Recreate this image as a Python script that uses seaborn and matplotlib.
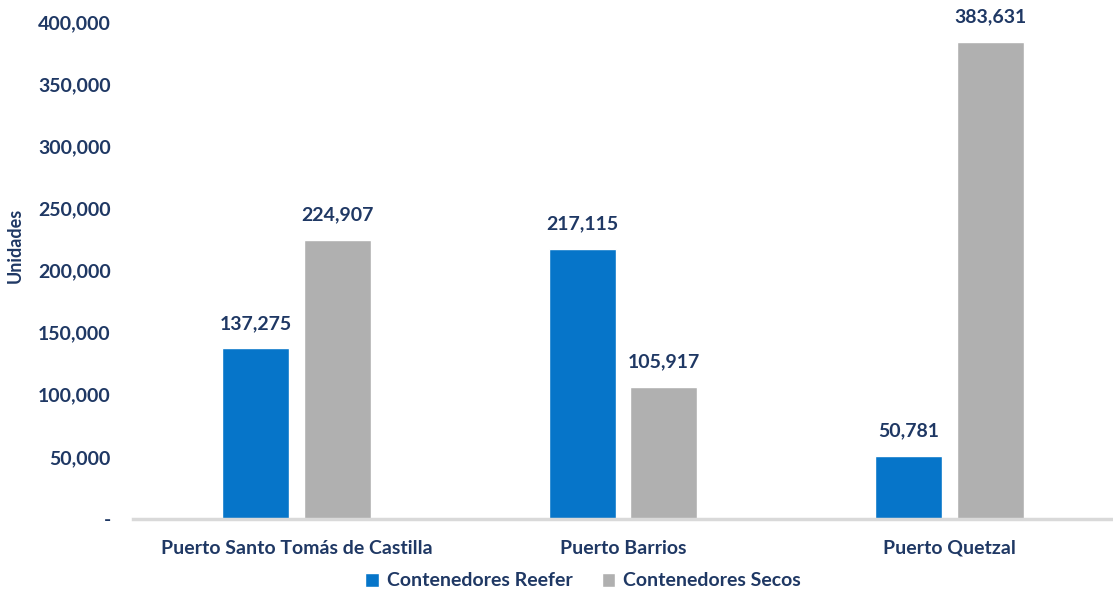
import matplotlib
matplotlib.use("Agg")
import matplotlib.pyplot as plt
import seaborn as sns
import pandas as pd
from matplotlib.ticker import FuncFormatter

# Data
puertos = ["Puerto Santo Tomás de Castilla", "Puerto Barrios", "Puerto Quetzal"]
reefer = [137275, 217115, 50781]
secos = [224907, 105917, 383631]
series = ["Contenedores Reefer", "Contenedores Secos"]
y_ticks = [0, 50000, 100000, 150000, 200000, 250000, 300000, 350000, 400000]

df = pd.DataFrame({
    "Puerto": puertos * 2,
    "Serie": [series[0]] * 3 + [series[1]] * 3,
    "Unidades": reefer + secos,
})

navy = "#1F3864"
colors = {series[0]: "#0675C9", series[1]: "#B0B0B0"}
fs = 14

sns.set_theme(style="white")
plt.rcParams["font.family"] = ["Lato", "DejaVu Sans"]
plt.rcParams["font.weight"] = "bold"

fig = plt.figure(figsize=(11.13, 5.94), dpi=100)
ax = fig.add_axes([133 / 1113, 1 - 519 / 594, (1113 - 133) / 1113, (519 - 22) / 594])

sns.barplot(data=df, x="Puerto", y="Unidades", hue="Serie", palette=colors,
            width=0.5, gap=0.18, ax=ax, legend=True, saturation=1)

for container in ax.containers:
    ax.bar_label(container, labels=[f"{v:,.0f}" for v in container.datavalues],
                 padding=12, color=navy, fontsize=fs, fontweight="bold")

ax.set_ylim(0, 400000)
ax.set_xlim(-0.5, 2.5)
ax.set_yticks(y_ticks)
ax.yaxis.set_major_formatter(FuncFormatter(lambda v, p: "-" if v == 0 else f"{v:,.0f}"))
ax.tick_params(axis="y", length=0, pad=16, labelsize=fs, labelcolor=navy)
ax.tick_params(axis="x", length=0, pad=15, labelsize=fs, labelcolor=navy)
for lbl in ax.get_xticklabels() + ax.get_yticklabels():
    lbl.set_fontweight("bold")

for side in ["top", "right", "left"]:
    ax.spines[side].set_visible(False)
ax.spines["bottom"].set_color("#D9D9D9")
ax.spines["bottom"].set_linewidth(2.5)

ax.set_xlabel("")
ax.set_ylabel("Unidades", color=navy, fontsize=13, fontweight="bold")
ax.yaxis.set_label_coords(-109 / 980, 0.55)

ax.legend(loc="center", bbox_to_anchor=(583 / 1113, 1 - 581 / 594), bbox_transform=fig.transFigure,
          ncol=2, frameon=False, handlelength=0.7, handleheight=0.7, handletextpad=0.4,
          columnspacing=1.5, prop={"size": fs, "weight": "bold"}, labelcolor=navy,
          borderaxespad=0, borderpad=0)

fig.savefig("out.png", dpi=100)
